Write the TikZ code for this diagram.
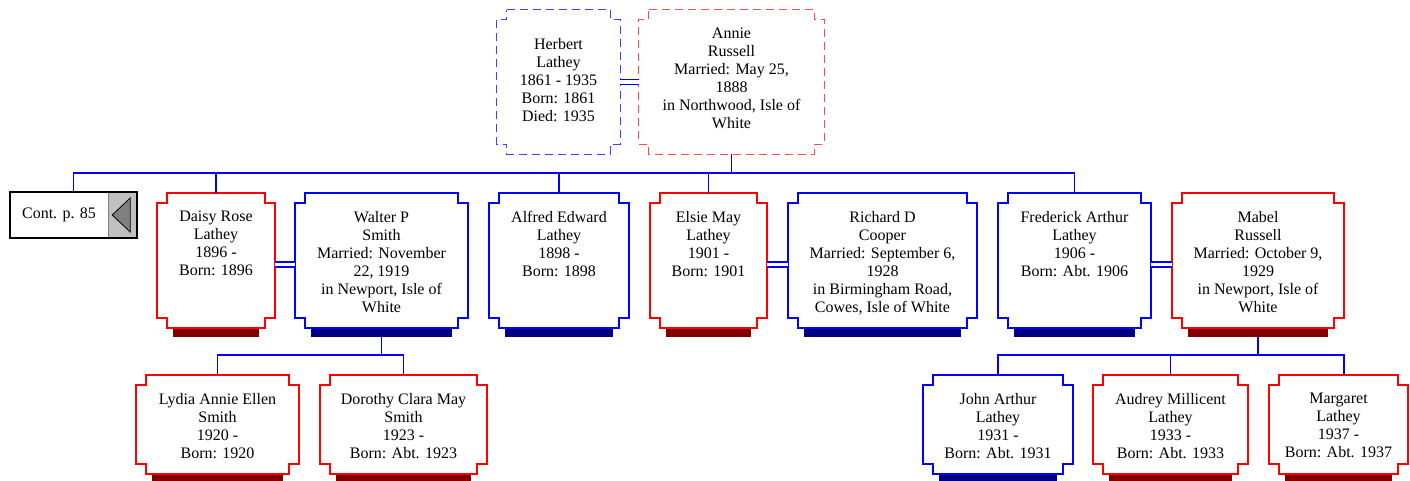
\documentclass[tikz,border=0pt]{standalone}
\usepackage{fontspec}
\setmainfont{Liberation Serif}
\usetikzlibrary{calc}

\definecolor{famred}{HTML}{FF0000}
\definecolor{famblue}{HTML}{0000FF}
\definecolor{barred}{HTML}{800000}
\definecolor{barblue}{HTML}{000080}
\definecolor{contgray}{HTML}{C0C0C0}
\definecolor{arrowgray}{HTML}{808080}

\newcommand{\cardfont}{\fontsize{16}{18}\selectfont}

% notched outline round a card node
\newcommand{\notchframe}[2]{%
  \draw[#2] ($(#1.north west)+(10,0)$) -- ($(#1.north east)+(-10,0)$) -- ++(0,-10) -- ++(10,0)
    -- ($(#1.south east)+(0,10)$) -- ++(-10,0) -- ++(0,-10) -- ($(#1.south west)+(10,0)$)
    -- ++(0,10) -- ++(-10,0) -- ($(#1.north west)+(0,-10)$) -- ++(10,0) -- cycle;}

% card with shadow bar underneath
\newcommand{\cardframe}[3]{%
  \fill[#3] ($(#1.south west)+(16,0)$) rectangle ($(#1.south east)+(-16,-9)$);
  \notchframe{#1}{#2}}

\begin{document}
\begin{tikzpicture}[x=1pt, y=1pt,
    card/.style={rectangle, inner sep=0pt, minimum height=135pt},
    topcard/.style={rectangle, inner sep=0pt, minimum height=144pt},
    kidcard/.style={rectangle, inner sep=0pt, minimum height=99pt},
    txt/.style={anchor=north, align=center, inner sep=0pt, font=\cardfont},
    link/.style={famblue, line width=1.8pt},
    wed/.style={famblue, double=white, double distance=3.5pt, line width=1.5pt},
    maleline/.style={famblue, line width=1.8pt},
    femaleline/.style={famred, line width=1.8pt},
    maledash/.style={famblue!75, line width=1.3pt, dash pattern=on 8pt off 5pt},
    femaledash/.style={famred!70, line width=1.3pt, dash pattern=on 8pt off 5pt}]
    \useasboundingbox (0,0) rectangle (1410,-481);

    % Parents
    \node[topcard, minimum width=123pt] (herbert) at (558.5,-82) {};
    \node[topcard, minimum width=185pt] (annie) at (731.5,-82) {};
    \notchframe{herbert}{maledash}
    \notchframe{annie}{femaledash}
    \node[txt] (herbert-t) at ([yshift=-28pt]herbert.north) {Herbert\\Lathey\\1861 - 1935\\Born: 1861\\Died: 1935};
    \node[txt] (annie-t) at ([yshift=-18pt]annie.north) {Annie\\Russell\\Married: May 25,\\1888\\in Northwood, Isle of\\White};
    \draw[wed] (herbert.east) -- (annie.west);

    % Children and spouses
    \node[card, minimum width=118pt] (daisy) at (216,-260.5) {};
    \node[card, minimum width=173pt] (walter) at (381.5,-260.5) {};
    \node[card, minimum width=140pt] (alfred) at (559,-260.5) {};
    \node[card, minimum width=117pt] (elsie) at (708.5,-260.5) {};
    \node[card, minimum width=189pt] (richard) at (882.5,-260.5) {};
    \node[card, minimum width=153pt] (frederick) at (1074.5,-260.5) {};
    \node[card, minimum width=172pt] (mabel) at (1258,-260.5) {};
    \cardframe{daisy}{femaleline}{barred}
    \cardframe{walter}{maleline}{barblue}
    \cardframe{alfred}{maleline}{barblue}
    \cardframe{elsie}{femaleline}{barred}
    \cardframe{richard}{maleline}{barblue}
    \cardframe{frederick}{maleline}{barblue}
    \cardframe{mabel}{femaleline}{barred}
    \node[txt] (daisy-t) at ([yshift=-18pt]daisy.north) {Daisy Rose\\Lathey\\1896 -\\Born: 1896};
    \node[txt] (walter-t) at ([yshift=-18pt]walter.north) {Walter P\\Smith\\Married: November\\22, 1919\\in Newport, Isle of\\White};
    \node[txt] (alfred-t) at ([yshift=-18pt]alfred.north) {Alfred Edward\\Lathey\\1898 -\\Born: 1898};
    \node[txt] (elsie-t) at ([yshift=-18pt]elsie.north) {Elsie May\\Lathey\\1901 -\\Born: 1901};
    \node[txt] (richard-t) at ([yshift=-18pt]richard.north) {Richard D\\Cooper\\Married: September 6,\\1928\\in Birmingham Road,\\Cowes, Isle of White};
    \node[txt] (frederick-t) at ([yshift=-18pt]frederick.north) {Frederick Arthur\\Lathey\\1906 -\\Born: Abt. 1906};
    \node[txt] (mabel-t) at ([yshift=-18pt]mabel.north) {Mabel\\Russell\\Married: October 9,\\1929\\in Newport, Isle of\\White};
    \draw[wed] ([yshift=-4pt]daisy.east) -- ([yshift=-4pt]walter.west);
    \draw[wed] ([yshift=-4pt]elsie.east) -- ([yshift=-4pt]richard.west);
    \draw[wed] ([yshift=-4pt]frederick.east) -- ([yshift=-4pt]mabel.west);

    % Continuation box
    \node[rectangle, inner sep=0pt, minimum width=127pt, minimum height=46pt] (cont) at (73.5,-215) {};
    \fill[contgray, draw=gray, line width=0.6pt] ([xshift=-29pt]cont.north east) rectangle (cont.south east);
    \draw[line width=1.6pt] (cont.north west) rectangle (cont.south east);
    \draw[fill=arrowgray, line width=0.8pt] ([xshift=-25pt]cont.east) -- ([xshift=-7pt,yshift=17pt]cont.east)
        -- ([xshift=-7pt,yshift=-17pt]cont.east) -- cycle;
    \node[font=\cardfont, inner sep=0pt] (cont-t) at ([xshift=-14.5pt]cont.center) {Cont. p. 85};

    % Sibling line
    \path (annie.south) ++(0,-19) coordinate (sib);
    \draw[link] (annie.south) -- (annie.south |- sib);
    \draw[link] (cont.north) |- (frederick.north |- sib) -- (frederick.north);
    \draw[link] (daisy.north) -- (daisy.north |- sib);
    \draw[link] (alfred.north) -- (alfred.north |- sib);
    \draw[link] (elsie.north) -- (elsie.north |- sib);

    % Grandchildren
    \node[kidcard, minimum width=163pt] (lydia) at (217.5,-424.5) {};
    \node[kidcard, minimum width=167pt] (dorothy) at (403.5,-424.5) {};
    \node[kidcard, minimum width=150pt] (john) at (998,-424.5) {};
    \node[kidcard, minimum width=155pt] (audrey) at (1170.5,-424.5) {};
    \node[kidcard, minimum width=139pt] (margaret) at (1338.5,-424.5) {};
    \cardframe{lydia}{femaleline}{barred}
    \cardframe{dorothy}{femaleline}{barred}
    \cardframe{john}{maleline}{barblue}
    \cardframe{audrey}{femaleline}{barred}
    \cardframe{margaret}{femaleline}{barred}
    \node[txt] (lydia-t) at ([yshift=-18pt]lydia.north) {Lydia Annie Ellen\\Smith\\1920 -\\Born: 1920};
    \node[txt] (dorothy-t) at ([yshift=-18pt]dorothy.north) {Dorothy Clara May\\Smith\\1923 -\\Born: Abt. 1923};
    \node[txt] (john-t) at ([yshift=-18pt]john.north) {John Arthur\\Lathey\\1931 -\\Born: Abt. 1931};
    \node[txt] (audrey-t) at ([yshift=-18pt]audrey.north) {Audrey Millicent\\Lathey\\1933 -\\Born: Abt. 1933};
    \node[txt] (margaret-t) at ([yshift=-18pt]margaret.north) {Margaret\\Lathey\\1937 -\\Born: Abt. 1937};

    % Walter's children
    \draw[link] ([yshift=-9pt]walter.south) -- ++(0,-18) coordinate (wkids);
    \draw[link] (lydia.north) |- (dorothy.north |- wkids) -- (dorothy.north);

    % Mabel's children
    \draw[link] ([yshift=-9pt]mabel.south) -- ++(0,-18) coordinate (mkids);
    \draw[link] (john.north) |- ([xshift=5.5pt]margaret.north |- mkids) -- ([xshift=5.5pt]margaret.north);
    \draw[link] (audrey.north) -- (audrey.north |- mkids);

\end{tikzpicture}
\end{document}
